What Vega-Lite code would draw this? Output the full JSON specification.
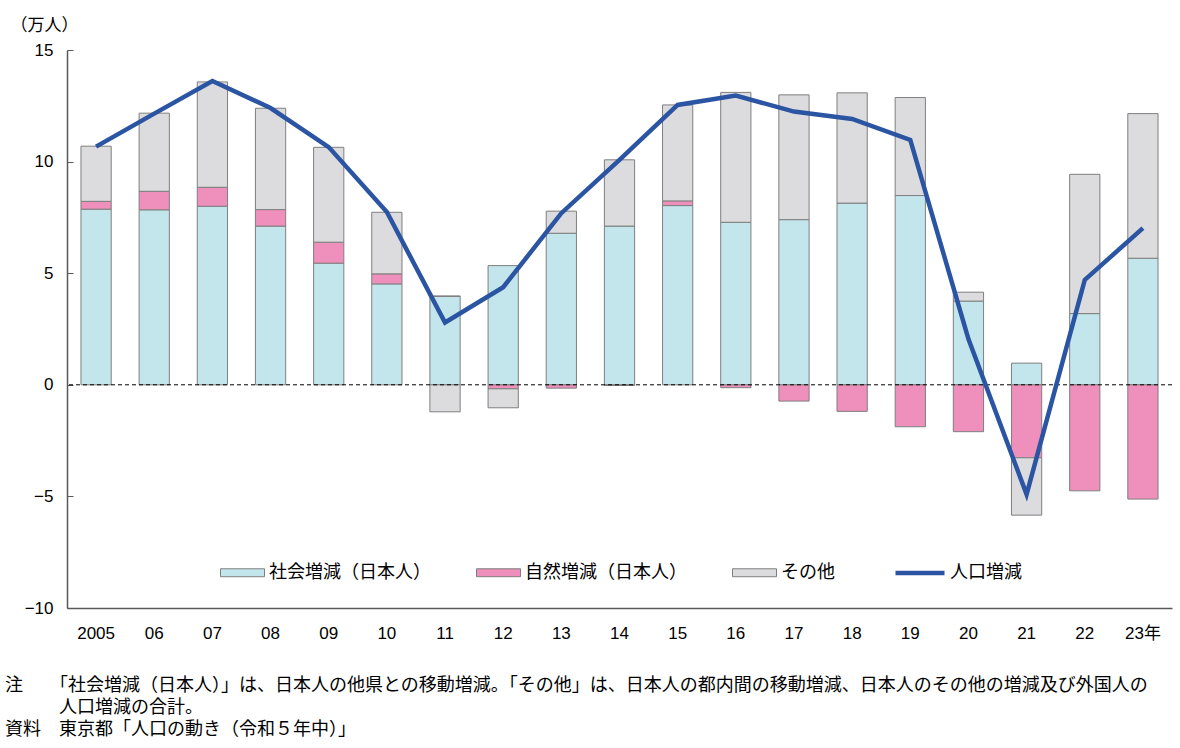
{
  "$schema": "https://vega.github.io/schema/vega-lite/v6.json",
  "width": 1105,
  "height": 558,
  "autosize": {"type": "none"},
  "padding": {"left": 67, "top": 50, "right": 8, "bottom": 140},
  "background": "white",
  "config": {"view": {"stroke": null}, "font": "Noto Sans CJK JP"},
  "title": {
    "text": [
      "注　　「社会増減（日本人）」は、日本人の他県との移動増減。「その他」は、日本人の都内間の移動増減、日本人のその他の増減及び外国人の",
      "\u200b　　　人口増減の合計。",
      "資料　東京都「人口の動き（令和５年中）」"
    ],
    "orient": "bottom",
    "anchor": "start",
    "frame": "group",
    "dx": -62,
    "offset": 36,
    "fontSize": 18,
    "font": "Noto Sans CJK JP",
    "fontWeight": "normal",
    "color": "black",
    "lineHeight": 22
  },
  "datasets": {
    "bars": [
      {"year": "2005", "cat": "社会増減（日本人）", "k": 1, "value": 7.87},
      {"year": "06", "cat": "社会増減（日本人）", "k": 1, "value": 7.84},
      {"year": "07", "cat": "社会増減（日本人）", "k": 1, "value": 8.00},
      {"year": "08", "cat": "社会増減（日本人）", "k": 1, "value": 7.11},
      {"year": "09", "cat": "社会増減（日本人）", "k": 1, "value": 5.45},
      {"year": "10", "cat": "社会増減（日本人）", "k": 1, "value": 4.52},
      {"year": "11", "cat": "社会増減（日本人）", "k": 1, "value": 3.96},
      {"year": "12", "cat": "社会増減（日本人）", "k": 1, "value": 5.34},
      {"year": "13", "cat": "社会増減（日本人）", "k": 1, "value": 6.79},
      {"year": "14", "cat": "社会増減（日本人）", "k": 1, "value": 7.11},
      {"year": "15", "cat": "社会増減（日本人）", "k": 1, "value": 8.03},
      {"year": "16", "cat": "社会増減（日本人）", "k": 1, "value": 7.28},
      {"year": "17", "cat": "社会増減（日本人）", "k": 1, "value": 7.40},
      {"year": "18", "cat": "社会増減（日本人）", "k": 1, "value": 8.14},
      {"year": "19", "cat": "社会増減（日本人）", "k": 1, "value": 8.48},
      {"year": "20", "cat": "社会増減（日本人）", "k": 1, "value": 3.75},
      {"year": "21", "cat": "社会増減（日本人）", "k": 1, "value": 0.97},
      {"year": "22", "cat": "社会増減（日本人）", "k": 1, "value": 3.19},
      {"year": "23年", "cat": "社会増減（日本人）", "k": 1, "value": 5.67},
      {"year": "2005", "cat": "自然増減（日本人）", "k": 2, "value": 0.35},
      {"year": "06", "cat": "自然増減（日本人）", "k": 2, "value": 0.83},
      {"year": "07", "cat": "自然増減（日本人）", "k": 2, "value": 0.85},
      {"year": "08", "cat": "自然増減（日本人）", "k": 2, "value": 0.74},
      {"year": "09", "cat": "自然増減（日本人）", "k": 2, "value": 0.94},
      {"year": "10", "cat": "自然増減（日本人）", "k": 2, "value": 0.45},
      {"year": "11", "cat": "自然増減（日本人）", "k": 2, "value": 0.02},
      {"year": "12", "cat": "自然増減（日本人）", "k": 2, "value": -0.18},
      {"year": "13", "cat": "自然増減（日本人）", "k": 2, "value": -0.15},
      {"year": "14", "cat": "自然増減（日本人）", "k": 2, "value": -0.03},
      {"year": "15", "cat": "自然増減（日本人）", "k": 2, "value": 0.21},
      {"year": "16", "cat": "自然増減（日本人）", "k": 2, "value": -0.13},
      {"year": "17", "cat": "自然増減（日本人）", "k": 2, "value": -0.73},
      {"year": "18", "cat": "自然増減（日本人）", "k": 2, "value": -1.19},
      {"year": "19", "cat": "自然増減（日本人）", "k": 2, "value": -1.88},
      {"year": "20", "cat": "自然増減（日本人）", "k": 2, "value": -2.10},
      {"year": "21", "cat": "自然増減（日本人）", "k": 2, "value": -3.27},
      {"year": "22", "cat": "自然増減（日本人）", "k": 2, "value": -4.75},
      {"year": "23年", "cat": "自然増減（日本人）", "k": 2, "value": -5.12},
      {"year": "2005", "cat": "その他", "k": 3, "value": 2.47},
      {"year": "06", "cat": "その他", "k": 3, "value": 3.50},
      {"year": "07", "cat": "その他", "k": 3, "value": 4.72},
      {"year": "08", "cat": "その他", "k": 3, "value": 4.54},
      {"year": "09", "cat": "その他", "k": 3, "value": 4.25},
      {"year": "10", "cat": "その他", "k": 3, "value": 2.76},
      {"year": "11", "cat": "その他", "k": 3, "value": -1.21},
      {"year": "12", "cat": "その他", "k": 3, "value": -0.85},
      {"year": "13", "cat": "その他", "k": 3, "value": 0.99},
      {"year": "14", "cat": "その他", "k": 3, "value": 2.97},
      {"year": "15", "cat": "その他", "k": 3, "value": 4.30},
      {"year": "16", "cat": "その他", "k": 3, "value": 5.82},
      {"year": "17", "cat": "その他", "k": 3, "value": 5.59},
      {"year": "18", "cat": "その他", "k": 3, "value": 4.94},
      {"year": "19", "cat": "その他", "k": 3, "value": 4.39},
      {"year": "20", "cat": "その他", "k": 3, "value": 0.40},
      {"year": "21", "cat": "その他", "k": 3, "value": -2.57},
      {"year": "22", "cat": "その他", "k": 3, "value": 6.24},
      {"year": "23年", "cat": "その他", "k": 3, "value": 6.48}
    ],
    "line": [
      {"year": "2005", "s": "人口増減", "total": 10.67},
      {"year": "06", "s": "人口増減", "total": 12.15},
      {"year": "07", "s": "人口増減", "total": 13.61},
      {"year": "08", "s": "人口増減", "total": 12.40},
      {"year": "09", "s": "人口増減", "total": 10.65},
      {"year": "10", "s": "人口増減", "total": 7.74},
      {"year": "11", "s": "人口増減", "total": 2.79},
      {"year": "12", "s": "人口増減", "total": 4.37},
      {"year": "13", "s": "人口増減", "total": 7.69},
      {"year": "14", "s": "人口増減", "total": 10.08},
      {"year": "15", "s": "人口増減", "total": 12.54},
      {"year": "16", "s": "人口増減", "total": 12.96},
      {"year": "17", "s": "人口増減", "total": 12.24},
      {"year": "18", "s": "人口増減", "total": 11.91},
      {"year": "19", "s": "人口増減", "total": 10.97},
      {"year": "20", "s": "人口増減", "total": 2.05},
      {"year": "21", "s": "人口増減", "total": -4.91},
      {"year": "22", "s": "人口増減", "total": 4.70},
      {"year": "23年", "s": "人口増減", "total": 7.02}
    ]
  },
  "layer": [
    {
      "data": {"name": "bars"},
      "mark": {"type": "bar", "stroke": "#7f7f7f", "strokeWidth": 1},
      "encoding": {
        "x": {
          "field": "year", "type": "nominal",
          "scale": {"domain": ["2005","06","07","08","09","10","11","12","13","14","15","16","17","18","19","20","21","22","23年"], "paddingInner": 0.48, "paddingOuter": 0.24},
          "axis": {"title": null, "ticks": false, "labelPadding": 17, "labelAngle": 0, "labelFont": "Liberation Sans, Noto Sans CJK JP", "labelFontSize": 17, "labelColor": "black", "domainColor": "#595959", "domainWidth": 1.5}
        },
        "y": {
          "field": "value", "type": "quantitative", "stack": "zero",
          "scale": {"domain": [-10, 15], "nice": false},
          "axis": {"values": [-10, -5, 0, 5, 10, 15], "grid": false, "tickSize": -6, "tickColor": "#595959", "labelPadding": 20, "labelFont": "Liberation Sans", "labelFontSize": 17, "labelColor": "black", "domainColor": "#595959", "domainWidth": 1.5, "title": "（万人）", "titleAngle": 0, "titleX": -57, "titleY": -25, "titleAlign": "left", "titleBaseline": "middle", "titleFontSize": 17, "titleFontWeight": "normal", "titleFont": "Noto Sans CJK JP", "titleColor": "black"}
        },
        "color": {
          "field": "cat", "type": "nominal",
          "scale": {"domain": ["社会増減（日本人）", "自然増減（日本人）", "その他"], "range": ["#c3e6ec", "#ef8fbc", "#dcdcde"]},
          "legend": {"orient": "none", "legendX": 153, "legendY": 500, "direction": "horizontal", "title": null, "symbolType": "M-1,-0.18H1V0.18H-1Z", "symbolSize": 1936, "symbolStrokeColor": "#7f7f7f", "symbolStrokeWidth": 1, "symbolOpacity": 1, "labelFontSize": 18, "labelFont": "Noto Sans CJK JP", "labelColor": "black", "labelOffset": 4, "columnPadding": 43, "padding": 0, "labelLimit": 300}
        },
        "order": {"field": "k", "type": "quantitative"}
      }
    },
    {
      "data": {"values": [{"z": 0}]},
      "mark": {"type": "rule", "strokeDash": [4, 3], "color": "black", "strokeWidth": 1},
      "encoding": {"y": {"field": "z", "type": "quantitative"}}
    },
    {
      "data": {"name": "line"},
      "mark": {"type": "line", "strokeWidth": 4.5},
      "encoding": {
        "x": {"field": "year", "type": "nominal"},
        "y": {"field": "total", "type": "quantitative"},
        "stroke": {
          "field": "s", "type": "nominal",
          "scale": {"domain": ["人口増減"], "range": ["#2b55a3"]},
          "legend": {"orient": "none", "legendX": 826, "legendY": 496, "title": null, "symbolType": "stroke", "symbolSize": 2401, "symbolStrokeWidth": 4.5, "labelFontSize": 18, "labelFont": "Noto Sans CJK JP", "labelColor": "black", "labelOffset": 3, "padding": 0}
        }
      }
    }
  ]
}
